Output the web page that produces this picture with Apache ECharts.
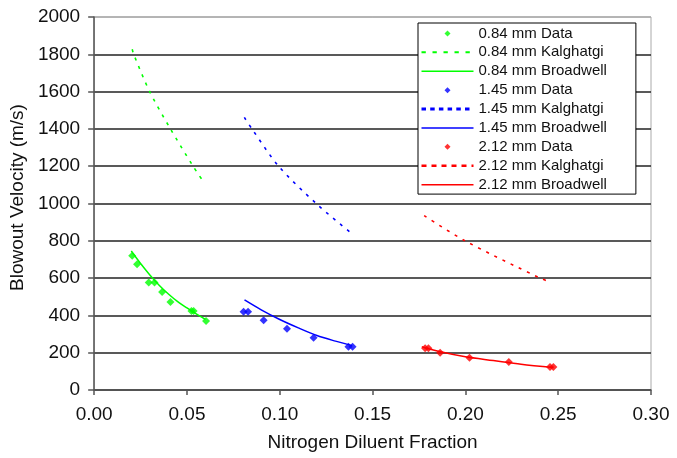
<!DOCTYPE html>
<html>
<head>
<meta charset="utf-8">
<script src="https://cdn.jsdelivr.net/npm/echarts@6/dist/echarts.min.js"></script>
<style>html,body{margin:0;padding:0;background:#fff}#c{width:677px;height:458px}</style>
</head>
<body>
<div id="c"></div>
<script>
// ---- data ----
const xTicks = [0, 0.05, 0.10, 0.15, 0.20, 0.25, 0.30];
const yTicks = [0, 200, 400, 600, 800, 1000, 1200, 1400, 1600, 1800, 2000];

const data084 = [[0.0205,720],[0.0231,674],[0.0294,577],[0.0325,577],[0.0366,525],[0.0411,472],[0.0524,424],[0.0536,424],[0.0603,370]];
const kal084  = [[0.0205,1827],[0.0213,1800],[0.0299,1600],[0.0411,1400],[0.0533,1200],[0.0595,1108]];
const brd084  = [[0.020,745],[0.025,678],[0.030,617],[0.035,562],[0.040,515],[0.045,474],[0.050,440],[0.055,408],[0.060,378]];

const data145 = [[0.0805,420],[0.0829,420],[0.0913,374],[0.1039,329],[0.1182,280],[0.1370,232],[0.1392,232]];
const kal145  = [[0.0809,1462],[0.0850,1400],[0.0994,1200],[0.1196,1000],[0.1379,846]];
const brd145  = [[0.081,483],[0.090,430],[0.100,378],[0.110,333],[0.120,292],[0.130,262],[0.139,238]];

const data212 = [[0.1783,224],[0.1801,224],[0.1864,200],[0.2022,173],[0.2234,150],[0.2456,123],[0.2474,123]];
const kal212  = [[0.1778,935],[0.1998,800],[0.2402,600],[0.2452,581]];
const brd212  = [[0.1765,232],[0.186,206],[0.200,178],[0.215,158],[0.230,138],[0.2474,120]];

const seriesNames = ['0.84 mm Data','0.84 mm Kalghatgi','0.84 mm Broadwell',
                     '1.45 mm Data','1.45 mm Kalghatgi','1.45 mm Broadwell',
                     '2.12 mm Data','2.12 mm Kalghatgi','2.12 mm Broadwell'];
const G = '#00ff00', B = '#0000ff', R = '#ff0000';
const FONT = "'Liberation Sans', Arial, sans-serif";

function scat(name, data, color) {
  return {name, type:'scatter', data, symbol:'diamond', symbolSize:8, symbolKeepAspect:true,
          itemStyle:{color}, z:3};
}
function line(name, data, color, dashed) {
  return {name, type:'line', data, symbol:'none', showSymbol:false, smooth:0.3,
          itemStyle:{color},
          lineStyle:{color, width: dashed ? 1.6 : 1.5, type: dashed ? [3,6] : 'solid'},
          z:2};
}

const chart = echarts.init(document.getElementById('c'), null, {renderer:'canvas'});
const gridColors = yTicks.map((v,i) => i === yTicks.length-1 ? '#aaaaaa' : '#222222');
const diamondIcon = 'path://M0,3L3,0L6,3L3,6Z';

chart.setOption({
  animation:false,
  backgroundColor:'#fff',
  textStyle:{fontFamily:FONT},
  grid:{left:94, right:26, top:17, bottom:68, show:true, borderColor:'#aaaaaa', borderWidth:1},
  xAxis:{
    type:'value', min:xTicks[0], max:xTicks[xTicks.length-1], interval:0.05,
    name:'Nitrogen Diluent Fraction', nameLocation:'middle', nameGap:43,
    nameTextStyle:{fontSize:19, color:'#111', fontFamily:FONT},
    axisLine:{show:true, onZero:false, lineStyle:{color:'#555', width:1.5}},
    axisTick:{show:true, length:5, lineStyle:{color:'#555', width:1.5}},
    axisLabel:{fontSize:19, color:'#111', margin:15, fontFamily:FONT,
               formatter:v => v.toFixed(2)},
    splitLine:{show:false}
  },
  yAxis:{
    type:'value', min:yTicks[0], max:yTicks[yTicks.length-1], interval:200,
    name:'Blowout Velocity (m/s)', nameLocation:'middle', nameGap:60,
    nameTextStyle:{fontSize:19, color:'#111', fontFamily:FONT, padding:[0,0,0,12]},
    axisLine:{show:true, onZero:false, lineStyle:{color:'#555', width:1.5}},
    axisTick:{show:true, length:6, lineStyle:{color:'#555', width:1.5}},
    axisLabel:{fontSize:19, color:'#111', margin:14, fontFamily:FONT,
               formatter:v => String(v)},
    splitLine:{show:true, lineStyle:{color:gridColors, width:1.5}}
  },
  legend:{
    orient:'vertical', left:418, top:23,
    padding:[1,29,0,2], itemGap:0, itemWidth:52, itemHeight:6,
    symbolKeepAspect:true,
    backgroundColor:'#fff', borderColor:'#000', borderWidth:1, borderRadius:0,
    textStyle:{fontSize:15, color:'#111', fontFamily:FONT, lineHeight:18.9},
    data:[
      {name:seriesNames[0], icon:diamondIcon},
      {name:seriesNames[1], itemStyle:{opacity:0}, lineStyle:{width:2, type:[4.3,6.7]}},
      {name:seriesNames[2], itemStyle:{opacity:0}, lineStyle:{width:1.5}},
      {name:seriesNames[3], icon:diamondIcon},
      {name:seriesNames[4], itemStyle:{opacity:0}, lineStyle:{width:3, type:[4.5,4.2]}},
      {name:seriesNames[5], itemStyle:{opacity:0}, lineStyle:{width:1.5}},
      {name:seriesNames[6], icon:diamondIcon},
      {name:seriesNames[7], itemStyle:{opacity:0}, lineStyle:{width:2.5, type:[5,5]}},
      {name:seriesNames[8], itemStyle:{opacity:0}, lineStyle:{width:1.5}}
    ]
  },
  series:[
    scat(seriesNames[0], data084, G),
    line(seriesNames[1], kal084, G, true),
    line(seriesNames[2], brd084, G, false),
    scat(seriesNames[3], data145, B),
    line(seriesNames[4], kal145, B, true),
    line(seriesNames[5], brd145, B, false),
    scat(seriesNames[6], data212, R),
    line(seriesNames[7], kal212, R, true),
    line(seriesNames[8], brd212, R, false)
  ]
});
</script>
</body>
</html>
